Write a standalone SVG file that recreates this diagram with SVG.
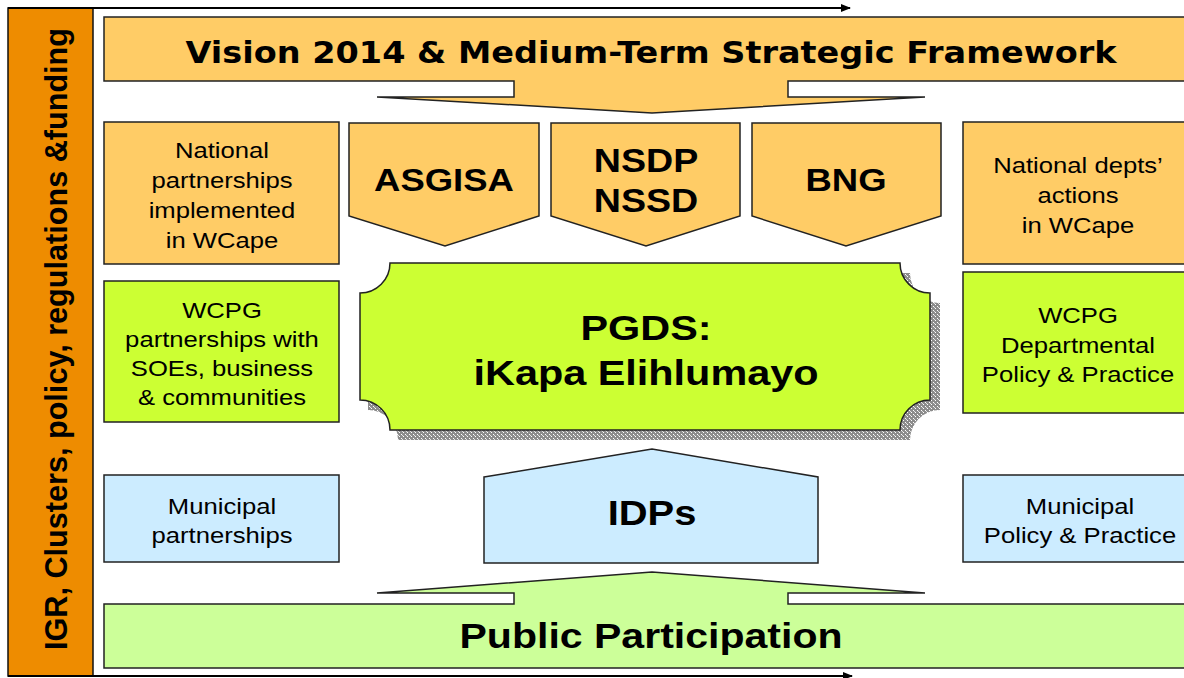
<svg xmlns="http://www.w3.org/2000/svg" width="1184" height="678" viewBox="0 0 1184 678">
<style>
.box{stroke:#222;stroke-width:1.5}
.or{fill:#FFCC66}
.lime{fill:#CCFF33}
.blue{fill:#CCECFF}
.pg{fill:#CCFF99}
.s{font-family:"Liberation Sans",Arial,sans-serif;font-size:22.5px;fill:#000;text-anchor:middle}
.b{font-family:"Liberation Sans",Arial,sans-serif;font-weight:bold;fill:#000;text-anchor:middle}
.conn{stroke:#000;stroke-width:1.8;fill:none}
</style>
<defs>
<marker id="ah" markerWidth="10" markerHeight="8" refX="9" refY="4" orient="auto" markerUnits="userSpaceOnUse">
<path d="M0,0 L10,4 L0,8 Z" fill="#000"/>
</marker>
<pattern id="dither" width="4" height="4" patternUnits="userSpaceOnUse">
<rect width="4" height="4" fill="#8c8c8c"/>
<rect x="1" y="2" width="1" height="1" fill="#fff"/>
<rect x="3" y="0" width="1" height="1" fill="#fff"/>
<rect x="2" y="3" width="1" height="1" fill="#ddd"/>
</pattern>
</defs>
<rect width="1184" height="678" fill="#fff"/>

<g id="side-bar">
<rect x="8" y="8" width="85" height="668" fill="#EE8C00" stroke="#111" stroke-width="1.5"/>
<text class="b" font-size="32" textLength="622" lengthAdjust="spacingAndGlyphs" transform="translate(67,339) rotate(-90)">IGR, Clusters, policy, regulations &amp;funding</text>
</g>

<g id="connectors">
<line class="conn" x1="8" y1="8" x2="850" y2="8" marker-end="url(#ah)"/>
<line class="conn" x1="8" y1="676" x2="852" y2="676" marker-end="url(#ah)"/>
</g>

<g id="vision">
<path class="box or" d="M104,17 H1192 V81 H788 V97 H925 L652,113 L377,97 H514 V81 H104 Z"/>
<text font-family="'DejaVu Sans','Liberation Sans',sans-serif" font-weight="bold" font-size="30" text-anchor="middle" x="651" y="63" textLength="931" lengthAdjust="spacingAndGlyphs">Vision 2014 &amp; Medium-Term Strategic Framework</text>
</g>

<g id="national-partnerships">
<rect class="box or" x="104" y="122" width="235" height="142"/>
<text class="s" transform="matrix(1.14 0 0 1 222 0)" y="158">National</text>
<text class="s" transform="matrix(1.14 0 0 1 222 0)" y="188">partnerships</text>
<text class="s" transform="matrix(1.14 0 0 1 222 0)" y="218">implemented</text>
<text class="s" transform="matrix(1.14 0 0 1 222 0)" y="248">in WCape</text>
</g>

<g id="asgisa">
<path class="box or" d="M349,123 H539 V216 L445,246 L349,216 Z"/>
<text class="b" font-size="32" transform="matrix(1.14 0 0 1 444 0)" y="191">ASGISA</text>
</g>

<g id="nsdp">
<path class="box or" d="M551,123 H740 V216 L646,246 L551,216 Z"/>
<text class="b" font-size="33" transform="matrix(1.14 0 0 1 646 0)" y="172">NSDP</text>
<text class="b" font-size="33" transform="matrix(1.14 0 0 1 646 0)" y="212">NSSD</text>
</g>

<g id="bng">
<path class="box or" d="M752,123 H941 V216 L846,246 L752,216 Z"/>
<text class="b" font-size="32" transform="matrix(1.14 0 0 1 846 0)" y="191">BNG</text>
</g>

<g id="national-depts">
<rect class="box or" x="963" y="122" width="230" height="142"/>
<text class="s" transform="matrix(1.14 0 0 1 1078 0)" y="173">National depts’</text>
<text class="s" transform="matrix(1.14 0 0 1 1078 0)" y="203">actions</text>
<text class="s" transform="matrix(1.14 0 0 1 1078 0)" y="233">in WCape</text>
</g>

<g id="wcpg-partnerships">
<rect class="box lime" x="104" y="281" width="235" height="141"/>
<text class="s" transform="matrix(1.14 0 0 1 222 0)" y="318">WCPG</text>
<text class="s" transform="matrix(1.14 0 0 1 222 0)" y="347">partnerships with</text>
<text class="s" transform="matrix(1.14 0 0 1 222 0)" y="376">SOEs, business</text>
<text class="s" transform="matrix(1.14 0 0 1 222 0)" y="405">&amp; communities</text>
</g>

<g id="pgds">
<path fill="url(#dither)" d="M398,273 H910 A30 30 0 0 0 940,303 V410 A30 30 0 0 0 910,440 H398 A30 30 0 0 0 368,410 V303 A30 30 0 0 0 398,273 Z"/>
<path class="box lime" d="M390,263 H900 A30 30 0 0 0 930,293 V400 A30 30 0 0 0 900,430 H390 A30 30 0 0 0 360,400 V293 A30 30 0 0 0 390,263 Z"/>
<text class="b" font-size="36" transform="matrix(1.15 0 0 1 646 0)" y="340">PGDS:</text>
<text class="b" font-size="36" transform="matrix(1.15 0 0 1 646 0)" y="385">iKapa Elihlumayo</text>
</g>

<g id="wcpg-departmental">
<rect class="box lime" x="963" y="272" width="230" height="141"/>
<text class="s" transform="matrix(1.14 0 0 1 1078 0)" y="323">WCPG</text>
<text class="s" transform="matrix(1.14 0 0 1 1078 0)" y="353">Departmental</text>
<text class="s" transform="matrix(1.14 0 0 1 1078 0)" y="382">Policy &amp; Practice</text>
</g>

<g id="municipal-partnerships">
<rect class="box blue" x="104" y="475" width="235" height="87"/>
<text class="s" transform="matrix(1.14 0 0 1 222 0)" y="514">Municipal</text>
<text class="s" transform="matrix(1.14 0 0 1 222 0)" y="543">partnerships</text>
</g>

<g id="idps">
<path class="box blue" d="M484,477 L652,449 L818,477 V563 H484 Z"/>
<text class="b" font-size="35" transform="matrix(1.14 0 0 1 652 0)" y="525">IDPs</text>
</g>

<g id="municipal-policy">
<rect class="box blue" x="963" y="475" width="230" height="87"/>
<text class="s" transform="matrix(1.14 0 0 1 1080 0)" y="514">Municipal</text>
<text class="s" transform="matrix(1.14 0 0 1 1080 0)" y="543">Policy &amp; Practice</text>
</g>

<g id="public-participation">
<path class="box pg" d="M104,668 H1192 V604 H788 V593 H925 L652,572 L377,593 H514 V604 H104 Z"/>
<text class="b" font-size="36" transform="matrix(1.14 0 0 1 651 0)" y="648">Public Participation</text>
</g>
</svg>
